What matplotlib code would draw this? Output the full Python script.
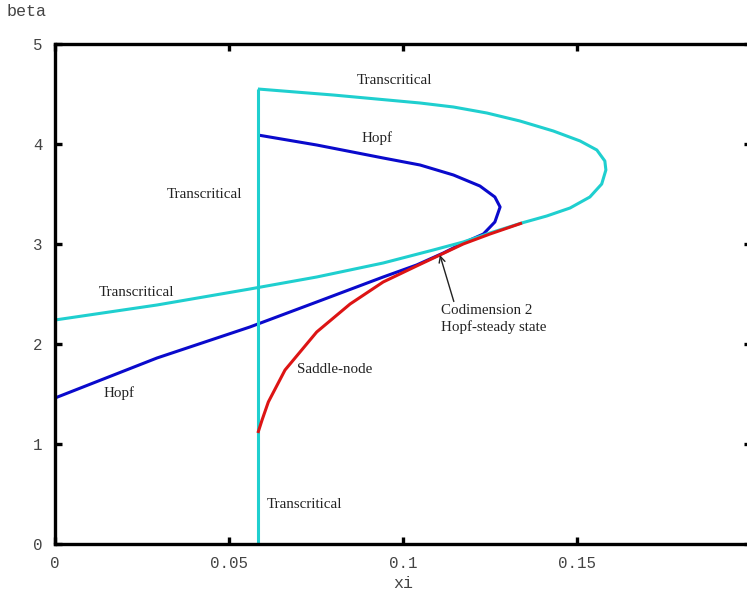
import matplotlib
matplotlib.use('Agg')
import matplotlib.pyplot as plt

# Transcritical curve (lower branch -> turning point -> upper branch)
tc_xi = [0.0, 0.0293, 0.0560, 0.0752, 0.0943, 0.1087, 0.1173, 0.1250, 0.1341,
         0.1413, 0.1480, 0.1537, 0.1571, 0.1583, 0.1580, 0.1557, 0.1509, 0.1432,
         0.1336, 0.1241, 0.1145, 0.1049, 0.0799, 0.0583]
tc_beta = [2.24, 2.39, 2.55, 2.67, 2.81, 2.94, 3.02, 3.11, 3.21,
           3.28, 3.36, 3.47, 3.60, 3.74, 3.83, 3.94, 4.03, 4.13,
           4.23, 4.31, 4.37, 4.41, 4.49, 4.55]

# vertical transcritical line
tc_vert_xi = [0.0583, 0.0583]
tc_vert_beta = [0.0, 4.55]

# Hopf curve
hopf_xi = [0.0, 0.0293, 0.0560, 0.0752, 0.0943, 0.1039, 0.1116, 0.1173, 0.1231,
           0.1264, 0.1279, 0.1264, 0.1221, 0.1145, 0.1049, 0.0943, 0.0752, 0.0583]
hopf_beta = [1.46, 1.86, 2.17, 2.42, 2.67, 2.79, 2.91, 3.01, 3.10,
             3.22, 3.37, 3.47, 3.58, 3.69, 3.79, 3.86, 3.99, 4.09]

# Saddle-node curve
sn_xi = [0.0583, 0.0595, 0.0613, 0.0661, 0.0752, 0.0848, 0.0943, 0.1039,
         0.1106, 0.1173, 0.1250, 0.1342]
sn_beta = [1.11, 1.24, 1.42, 1.74, 2.12, 2.40, 2.62, 2.78,
           2.89, 3.00, 3.10, 3.21]

cyan = '#1fcfcf'
blue = '#0a0acc'
red = '#dd1414'

fig = plt.figure(figsize=(7.47, 5.94), dpi=100)
ax = fig.add_axes([55/747, 50/594, 696/747, 500/594])

style = dict(lw=2.2, solid_joinstyle='round', solid_capstyle='butt')
ax.plot(hopf_xi, hopf_beta, color=blue, **style)
ax.plot(tc_xi, tc_beta, color=cyan, **style)
ax.plot(tc_vert_xi, tc_vert_beta, color=cyan, **style)
ax.plot(sn_xi, sn_beta, color=red, **style)

ax.set_xlim(0, 0.2)
ax.set_ylim(0, 5)
ax.set_xticks([0, 0.05, 0.1, 0.15])
ax.set_xticklabels(['0', '0.05', '0.1', '0.15'])
ax.set_yticks([0, 1, 2, 3, 4, 5])

mono = 'Liberation Mono'
for sp in ax.spines.values():
    sp.set_linewidth(2.4)
ax.tick_params(direction='in', length=5, width=2.4, top=True, right=True,
               labelsize=11.3, labelcolor='#444444', pad=9)
for lab in ax.get_xticklabels() + ax.get_yticklabels():
    lab.set_family(mono)

ax.set_xlabel('xi', family=mono, fontsize=12, color='#444444', labelpad=3)
fig.text(7/747, 1 - 12/594, 'beta', family=mono, fontsize=12, color='#444444',
         ha='left', va='center')

serif = 'Liberation Serif'
fs = 10.8
txt = dict(family=serif, fontsize=fs, ha='center', va='center', color='#222222')
ax.text(0.0977, 4.63, 'Transcritical', **txt)
ax.text(0.0925, 4.06, 'Hopf', **txt)
ax.text(0.0431, 3.49, 'Transcritical', **txt)
ax.text(0.0233, 2.51, 'Transcritical', **txt)
ax.text(0.0184, 1.51, 'Hopf', **txt)
ax.text(0.0805, 1.74, 'Saddle-node', **txt)
ax.text(0.0716, 0.39, 'Transcritical', **txt)

ax.annotate('Codimension 2\nHopf-steady state', xy=(0.1106, 2.89), xytext=(0.1109, 2.25),
            family=serif, fontsize=fs, ha='left', va='center', color='#222222',
            linespacing=1.25,
            arrowprops=dict(arrowstyle='->', color='#222222', lw=1.0,
                            shrinkA=0, shrinkB=0,
                            relpos=(0.13, 1.0)))

fig.savefig('out.png', dpi=100)
